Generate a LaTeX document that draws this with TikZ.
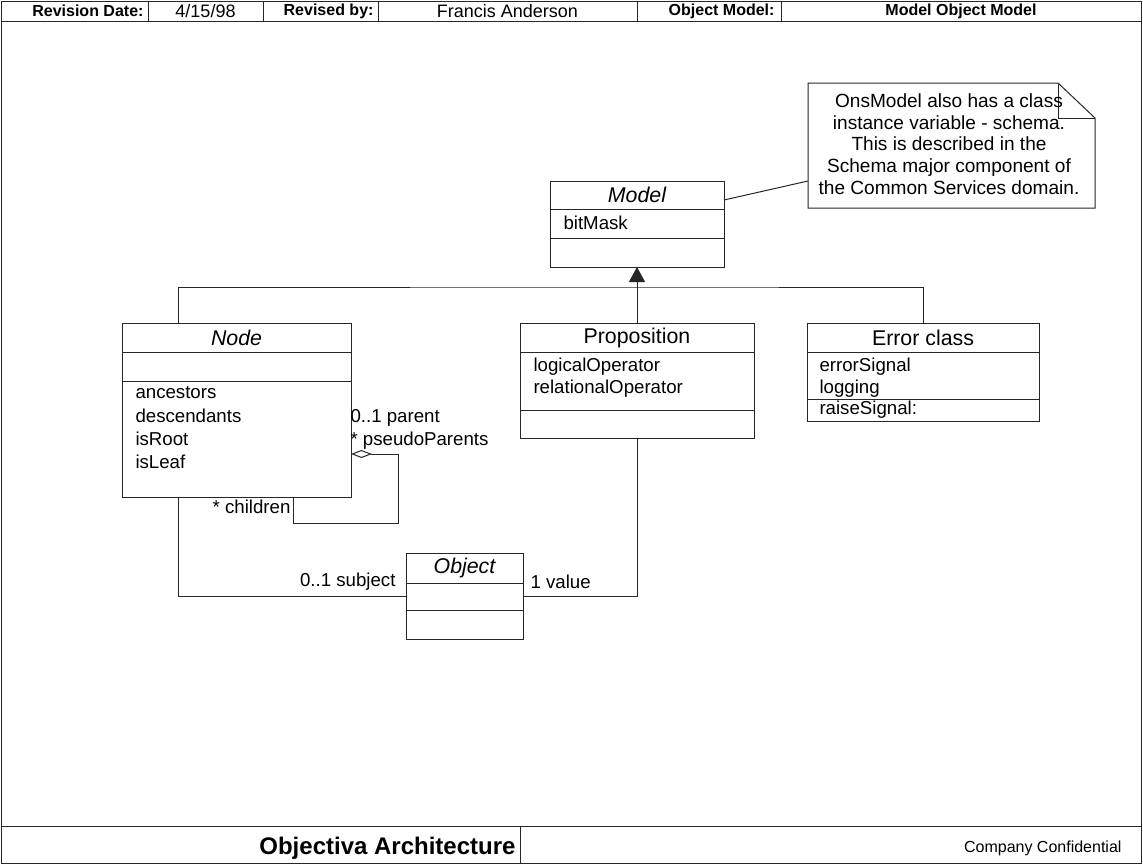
\documentclass[tikz,border=0pt]{standalone}
\usepackage{fontspec}
\setmainfont{Liberation Sans}
\usetikzlibrary{arrows.meta}
\begin{document}
\begin{tikzpicture}[x=0.75pt,y=-0.75pt,line width=0.75pt,
  frame/.style={draw=black!85},
  box/.style={draw=black!85,fill=white,inner sep=0pt,outer sep=0pt},
  sep/.style={draw=black!85},
  txt/.style={font=\fontsize{14}{17}\selectfont,inner sep=0pt},
  ttl/.style={inner sep=0pt,anchor=center,font=\fontsize{16}{18}\selectfont},
  itl/.style={inner sep=0pt,anchor=center,font=\fontsize{16}{18}\selectfont\itshape},
  att/.style={txt,anchor=west},
  hlab/.style={font=\fontsize{12}{14}\selectfont\bfseries,inner sep=0pt},
  hval/.style={font=\fontsize{13.5}{16}\selectfont,inner sep=0pt},
  conn/.style={draw=black!85},
  role/.style={txt,inner sep=0pt}]
\useasboundingbox (0,0) rectangle (1143,864);
% frame
\draw[frame] (1,1) rectangle (1141,863);
\draw[frame] (1,21) -- (1141,21);
\foreach \xx in {148,263,378,637,781} \draw[frame] (\xx,1) -- (\xx,21);
\node[hlab,anchor=east] (h1) at (144,11) {Revision Date:};
\node[hval] (h2) at (205.5,11) {4/15/98};
\node[hlab,anchor=east] (h3) at (374,11) {Revised by:};
\node[hval] (h4) at (507.5,11) {Francis Anderson};
\node[hlab,anchor=east] (h5) at (775,11) {Object Model:};
\node[hlab] (h6) at (961,11) {Model Object Model};
\draw[frame] (1,826) -- (1141,826);
\draw[frame] (520,826) -- (520,863);
\node[font=\fontsize{18}{20}\selectfont\bfseries,inner sep=0pt,anchor=east] (f1) at (516,848) {Objectiva Architecture};
\node[font=\fontsize{12}{14}\selectfont,inner sep=0pt,anchor=east] (f2) at (1122,848) {Company Confidential};

% Model
\node[box,minimum width=130.5pt,minimum height=64.5pt] (model) at (637,224) {};
\draw[sep] (550,209) -- (724,209);
\draw[sep] (550,238) -- (724,238);
\node[itl] (modelt) at (637,195) {Model};
\node[att] (modela) at (563,223) {bitMask};

% Note
\draw[frame] (808,83) -- (1058,83) -- (1095,118) -- (1095,208) -- (808,208) -- cycle;
\draw[frame] (1058,83) -- (1058,118) -- (1095,118);
\node[inner sep=0pt,align=center,font=\fontsize{14.3}{16.3}\selectfont] (note) at (949,144)
  {OnsModel also has a class\\instance variable - schema.\\This is described in the\\Schema major component of\\the Common Services domain.};
\coordinate (notel) at (808,181);
\coordinate (modelr) at (724,200);
\draw[conn] (modelr) -- (notel);

% Node
\node[box,minimum width=171.75pt,minimum height=130.5pt] (nodec) at (236.5,410) {};
\draw[sep] (122,352) -- (351,352);
\draw[sep] (122,381) -- (351,381);
\node[itl] (nodet) at (236.5,338) {Node};
\node[att] (na1) at (135,393) {ancestors};
\node[att] (na2) at (135,416) {descendants};
\node[att] (na3) at (135,439) {isRoot};
\node[att] (na4) at (135,462) {isLeaf};

% Proposition
\node[box,minimum width=175.5pt,minimum height=86.25pt] (prop) at (637,380.5) {};
\draw[sep] (520,352) -- (754,352);
\draw[sep] (520,410) -- (754,410);
\node[ttl] (propt) at (637,338) {Proposition};
\node[att] (pa1) at (533,367) {logicalOperator};
\node[att] (pa2) at (533,389) {relationalOperator};

% Error class
\node[box,minimum width=174pt,minimum height=73.5pt] (err) at (923,372) {};
\draw[sep] (807,352) -- (1039,352);
\draw[sep] (807,399) -- (1039,399);
\node[ttl] (errt) at (923,338) {Error class};
\node[att] (ea1) at (819,367) {errorSignal};
\node[att] (ea2) at (819,389) {logging};
\node[att] (ea3) at (819,410) {raiseSignal:};

% Object
\node[box,minimum width=87.75pt,minimum height=64.5pt] (obj) at (464.5,596) {};
\draw[sep] (406,583) -- (523,583);
\draw[sep] (406,610) -- (523,610);
\node[itl] (objt) at (464.5,568) {Object};

% generalization
\coordinate (hl) at (637,287);
\coordinate (nt) at (178,323);
\draw[conn] (nt) |- (hl) -| (err.north);
\draw[conn,-{Triangle[length=11.25pt,width=12pt]}] (prop.north) -- (model.south);

% self association
\coordinate (sa) at (351,454);
\coordinate (sb) at (293,497);
\coordinate (sc) at (398,523);
\draw[conn,{Diamond[open,length=15.75pt,width=6pt]}-] (sa) -| (sc) -| (sb);
\node[role,anchor=west] (r1) at (350,418) {0..1 parent};
\node[role,anchor=west] (r2) at (350,441) {* pseudoParents};
\node[role,anchor=east] (r3) at (291,507) {* children};

% Node-Object, Object-Prop
\coordinate (nb) at (178,497);
\draw[conn] (nb) |- (obj.west);
\draw[conn] (obj.east) -| (prop.south);
\node[role,anchor=east] (r4) at (396,582) {0..1 subject};
\node[role,anchor=west] (r5) at (530,582) {1 value};
\end{tikzpicture}
\end{document}
